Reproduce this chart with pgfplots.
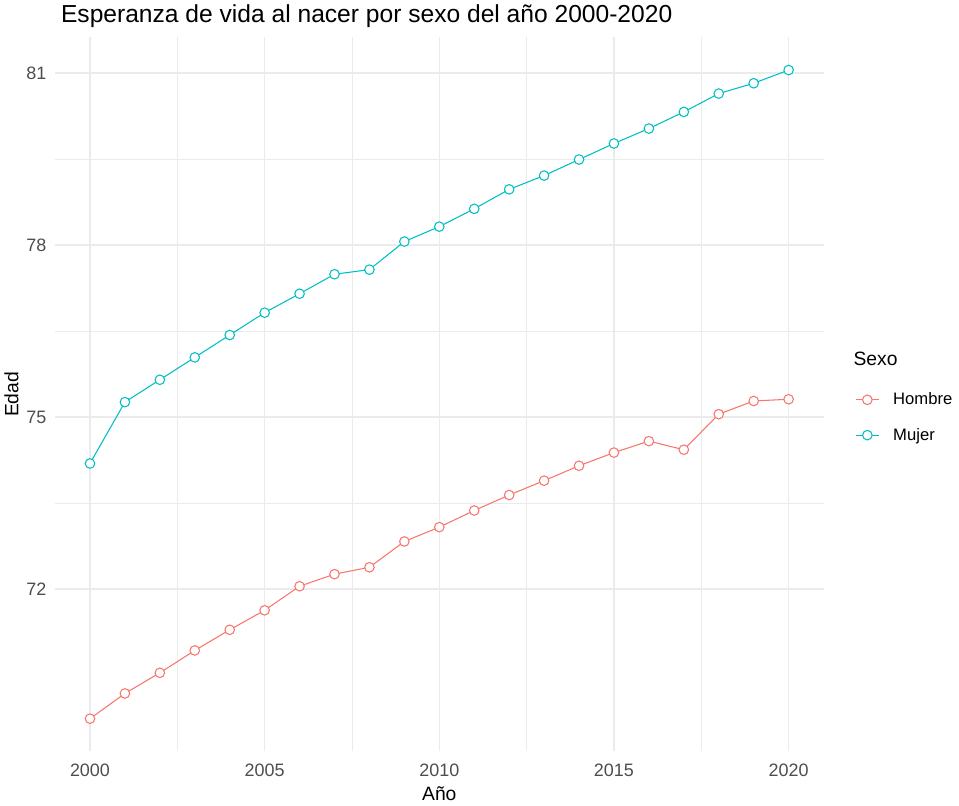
\documentclass[border=0pt]{standalone}
\usepackage{pgfplots}
\pgfplotsset{compat=1.18}
\usepackage{fontspec}
\setmainfont{Liberation Sans}
\definecolor{hombre}{HTML}{F8766D}
\definecolor{mujer}{HTML}{00BFC4}
\definecolor{gridc}{HTML}{EBEBEB}
\definecolor{tickc}{HTML}{4D4D4D}
\begin{document}
\begin{tikzpicture}
\begin{axis}[
    scale only axis,
    width=578pt, height=537pt,
    xmin=1999, xmax=2021,
    ymin=69.17, ymax=81.62,
    xtick={2000,2005,...,2020},
    ytick={72,75,78,81},
    minor tick num=1,
    grid=both,
    major grid style={gridc, line width=1.1pt},
    minor grid style={gridc, line width=0.6pt},
    axis line style={draw=none},
    major tick style={draw=none},
    minor tick style={draw=none},
    /pgf/number format/1000 sep={},
    /pgf/number format/assume math mode=true,
    tick label style={font=\fontsize{13.5}{15}\selectfont, text=tickc},
    xticklabel style={yshift=-6pt},
    yticklabel style={xshift=-3pt},
    xlabel={Año},
    ylabel={Edad},
    label style={font=\fontsize{14.5}{16}\selectfont},
    xlabel style={at={(axis description cs:0.5,0)}, anchor=north, yshift=-23pt},
    ylabel style={yshift=-1pt},
    title={Esperanza de vida al nacer por sexo del año 2000-2020},
    title style={at={(0,1)}, anchor=south west, xshift=1pt, yshift=-2pt,
        font=\fontsize{18.5}{20}\selectfont},
    legend style={at={(1.036,0.51)}, anchor=north west, draw=none,
        font=\fontsize{12.5}{14}\selectfont, row sep=12pt},
    legend cell align=left,
    legend image code/.code={
        \draw[mark repeat=2,mark phase=2,#1]
            plot coordinates {(0cm,0cm) (0.3cm,0cm) (0.6cm,0cm)};
        \path (0.9cm,0cm);
    },
    clip=false,
]
\addplot[hombre, line width=0.8pt, mark=*, mark size=3.6pt,
    mark options={fill=white, line width=0.8pt}] coordinates {
(2000,69.74)(2001,70.18)(2002,70.54)(2003,70.93)(2004,71.29)(2005,71.63)
(2006,72.05)(2007,72.26)(2008,72.38)(2009,72.83)(2010,73.08)(2011,73.37)
(2012,73.64)(2013,73.89)(2014,74.15)(2015,74.38)(2016,74.58)(2017,74.43)
(2018,75.05)(2019,75.28)(2020,75.31)};
\addlegendentry{Hombre}
\addplot[mujer, line width=0.8pt, mark=*, mark size=3.6pt,
    mark options={fill=white, line width=0.8pt}] coordinates {
(2000,74.19)(2001,75.26)(2002,75.65)(2003,76.04)(2004,76.43)(2005,76.82)
(2006,77.15)(2007,77.49)(2008,77.57)(2009,78.06)(2010,78.32)(2011,78.63)
(2012,78.97)(2013,79.21)(2014,79.49)(2015,79.77)(2016,80.03)(2017,80.32)
(2018,80.64)(2019,80.82)(2020,81.05)};
\addlegendentry{Mujer}
\node[anchor=west, font=\fontsize{14.5}{16}\selectfont]
    at (axis description cs:1.033,0.55) {Sexo};
\end{axis}
\end{tikzpicture}
\end{document}
